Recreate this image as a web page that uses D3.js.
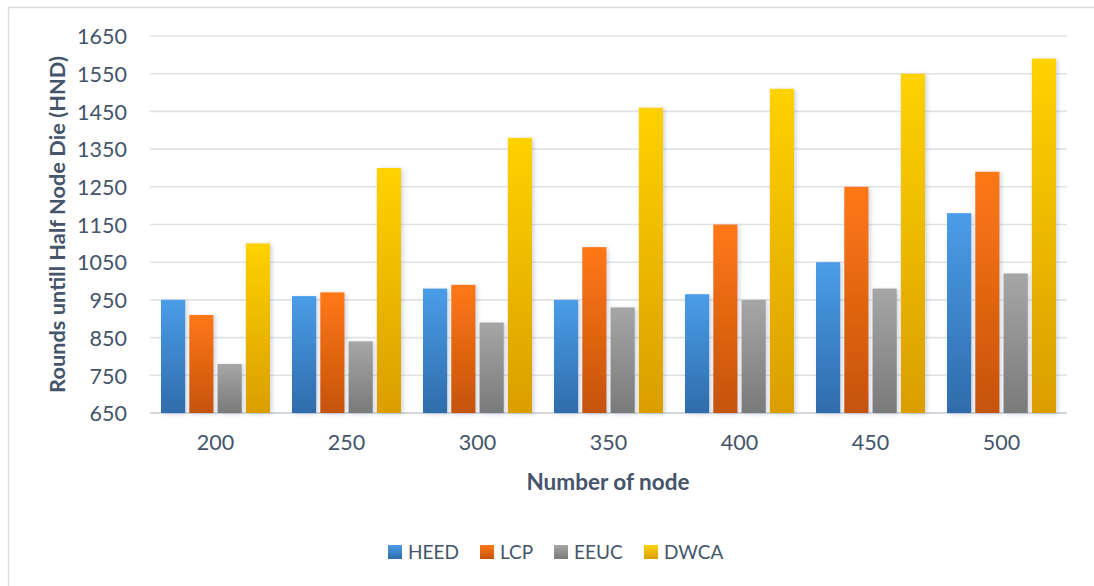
<!DOCTYPE html>
<html>
<head>
<meta charset="utf-8">
<script src="https://cdn.jsdelivr.net/npm/d3@7"></script>
<style>
  html, body { margin: 0; padding: 0; background: #fff; }
  svg { display: block; font-family: Lato, "Open Sans", sans-serif; }
</style>
</head>
<body>
<svg id="chart" width="1094" height="586"></svg>
<script>
// Node counts on the x axis
const categories = ["200", "250", "300", "350", "400", "450", "500"];
// Protocols compared
const seriesNames = ["HEED", "LCP", "EEUC", "DWCA"];
// Rounds until half the nodes die, one array per protocol
const heed = [950, 960, 980, 950, 965, 1050, 1180];
const lcp  = [910, 970, 990, 1090, 1150, 1250, 1290];
const eeuc = [780, 840, 890, 930, 950, 980, 1020];
const dwca = [1100, 1300, 1380, 1460, 1510, 1550, 1590];
// Y axis ticks
const yTicks = [650, 750, 850, 950, 1050, 1150, 1250, 1350, 1450, 1550, 1650];

const seriesValues = [heed, lcp, eeuc, dwca];
const gradients = [
  ["#4a9de8", "#2f6cab"],
  ["#ff7814", "#c5530e"],
  ["#a6a6a6", "#7a7a7a"],
  ["#ffd200", "#da9e00"]
];
const textColor = "#44546a";

const svg = d3.select("#chart");
const W = 1094, H = 586;
const plot = { left: 150, right: 1067, top: 36, bottom: 413 };

// chart frame
svg.append("rect")
  .attr("x", 8.5).attr("y", 7.5)
  .attr("width", W + 20).attr("height", H + 20)
  .attr("fill", "#fff").attr("stroke", "#d9dde3").attr("stroke-width", 1.5);

const defs = svg.append("defs");
gradients.forEach((g, i) => {
  const lg = defs.append("linearGradient")
    .attr("id", "grad" + i)
    .attr("x1", 0).attr("y1", 0).attr("x2", 0).attr("y2", 1);
  lg.append("stop").attr("offset", "0%").attr("stop-color", g[0]);
  lg.append("stop").attr("offset", "100%").attr("stop-color", g[1]);
});
const shadow = defs.append("filter").attr("id", "shadow")
  .attr("x", "-30%").attr("y", "-10%").attr("width", "160%").attr("height", "130%");
shadow.append("feDropShadow")
  .attr("dx", 2).attr("dy", 1).attr("stdDeviation", 2.2)
  .attr("flood-color", "#7a8494").attr("flood-opacity", 0.35);

const y = d3.scaleLinear().domain([650, 1650]).range([plot.bottom, plot.top]);
const x0 = d3.scaleBand().domain(categories)
  .range([plot.left, plot.right]).paddingInner(0.168).paddingOuter(0.084);
const x1 = d3.scaleBand().domain(seriesNames)
  .range([0, x0.bandwidth()]).paddingInner(0.145);

// gridlines
svg.append("g")
  .selectAll("line").data(yTicks).join("line")
  .attr("x1", plot.left).attr("x2", plot.right)
  .attr("y1", d => y(d)).attr("y2", d => y(d))
  .attr("stroke", d => d === 650 ? "#d3d8df" : "#dfe3e8")
  .attr("stroke-width", d => d === 650 ? 2.2 : 1.6);

// y axis labels
const yAxis = d3.axisLeft(y).tickValues(yTicks).tickFormat(d3.format("d"))
  .tickSize(0).tickPadding(0);
svg.append("g")
  .attr("transform", `translate(${plot.left - 23},0)`)
  .call(yAxis)
  .call(g => g.select(".domain").remove())
  .call(g => g.selectAll("text")
    .attr("fill", textColor).attr("font-size", 21.5)
    .attr("font-family", "Lato, sans-serif").attr("dy", "0.36em"));

// x axis labels
const xAxis = d3.axisBottom(x0).tickSize(0).tickPadding(0);
svg.append("g")
  .attr("transform", `translate(0,${plot.bottom + 22})`)
  .call(xAxis)
  .call(g => g.select(".domain").remove())
  .call(g => g.selectAll("text")
    .attr("fill", textColor).attr("font-size", 21.5)
    .attr("font-family", "Lato, sans-serif").attr("dy", "0.71em"));

// bars
const groups = svg.append("g").selectAll("g").data(categories).join("g")
  .attr("transform", d => `translate(${x0(d)},0)`);
groups.selectAll("rect")
  .data((c, ci) => seriesNames.map((s, si) => ({ s, si, v: seriesValues[si][ci] })))
  .join("rect")
  .attr("x", d => x1(d.s))
  .attr("y", d => y(d.v))
  .attr("width", x1.bandwidth())
  .attr("height", d => y(650) - y(d.v))
  .attr("fill", d => `url(#grad${d.si})`)
  .attr("filter", "url(#shadow)");

// axis titles
svg.append("text")
  .attr("x", 608).attr("y", 490)
  .attr("text-anchor", "middle")
  .attr("fill", textColor).attr("font-weight", "bold").attr("font-size", 22.5)
  .text("Number of node");

svg.append("text")
  .attr("transform", `translate(65,${(plot.top + plot.bottom) / 2}) rotate(-90)`)
  .attr("text-anchor", "middle")
  .attr("fill", textColor).attr("font-weight", "bold").attr("font-size", 21.8)
  .text("Rounds untill Half Node Die (HND)");

// legend
const legendX = [388, 480, 554, 644];
const legend = svg.append("g").selectAll("g").data(seriesNames).join("g")
  .attr("transform", (d, i) => `translate(${legendX[i]},545)`);
legend.append("rect")
  .attr("width", 14).attr("height", 14)
  .attr("fill", (d, i) => `url(#grad${i})`);
legend.append("text")
  .attr("x", 20).attr("y", 7).attr("dy", "0.36em")
  .attr("fill", textColor).attr("font-size", 19)
  .text(d => d);
</script>
</body>
</html>
